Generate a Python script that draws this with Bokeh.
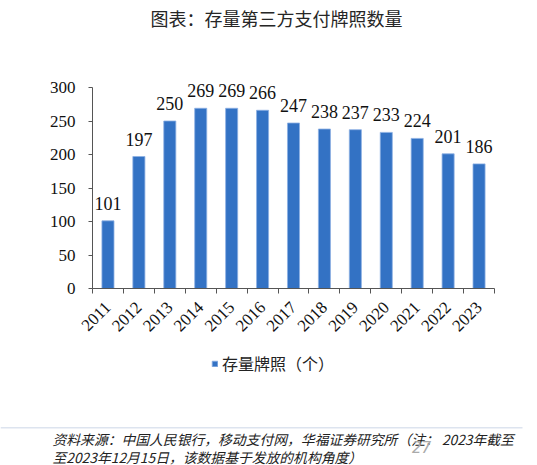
import math
from bokeh.plotting import figure
from bokeh.models import (ColumnDataSource, FixedTicker, LabelSet, Label, Legend,
                          LegendItem, Range1d, BoxAnnotation)
from bokeh.embed import file_html
from bokeh.resources import INLINE

# data
years = ["2011", "2012", "2013", "2014", "2015", "2016", "2017",
         "2018", "2019", "2020", "2021", "2022", "2023"]
licences = [101, 197, 250, 269, 269, 266, 247, 238, 237, 233, 224, 201, 186]
y_ticks = [0, 50, 100, 150, 200, 250, 300]

title_text = "图表：存量第三方支付牌照数量"
legend_text = "存量牌照（个）"
note_1 = "资料来源：中国人民银行，移动支付网，华福证券研究所（注： 2023年截至"
note_2 = "至2023年12月15日，该数据基于发放的机构角度）"
page_no = "27"

CJK = "Noto Sans CJK SC"
SERIF = "Liberation Serif"
BAR = "#3372C4"
AXIS = "#555555"

W, H = 537, 465
n = len(years)
centers = [i + 0.5 for i in range(n)]
source = ColumnDataSource(dict(x=centers, top=licences,
                               label=[str(v) for v in licences]))

# the frame fills the canvas; axes are pinned at x=0 / y=0 so the chart
# sits at (92..494, 87..288) px and notes/legend stay inside the frame
px_x = (494 - 92) / n
px_y = (288 - 87) / 300
p = figure(width=W, height=H, output_backend="svg", toolbar_location=None,
           x_range=Range1d(-92 / px_x, (W - 92) / px_x),
           y_range=Range1d(-(H - 288) / px_y, 288 / px_y),
           min_border=0)
p.outline_line_color = None
p.grid.grid_line_color = None
p.border_fill_color = "white"

r = p.vbar(x="x", top="top", width=0.39, source=source, fill_color=BAR,
           line_color="#8DB0E3", line_width=0.8)

# x axis: labels at centres, ticks at category boundaries
p.xaxis.fixed_location = 0
p.xaxis.bounds = (0, n)
p.xaxis.ticker = FixedTicker(ticks=centers, minor_ticks=list(range(n + 1)))
p.xaxis.major_label_overrides = {c: y for c, y in zip(centers, years)}
p.xaxis.major_tick_out = 0
p.xaxis.major_tick_in = 0
p.xaxis.minor_tick_out = 5
p.xaxis.minor_tick_in = 0
p.xaxis.major_label_orientation = math.pi / 4
p.xaxis.major_label_standoff = 11

p.yaxis.fixed_location = 0
p.yaxis.bounds = (0, 300)
p.yaxis.ticker = FixedTicker(ticks=y_ticks)
p.yaxis.major_tick_out = 4
p.yaxis.major_tick_in = 0
p.yaxis.major_label_standoff = 13

for ax in (p.xaxis, p.yaxis):
    ax.axis_line_color = AXIS
    ax.major_tick_line_color = AXIS
    ax.minor_tick_line_color = AXIS
    ax.major_label_text_font = SERIF
    ax.major_label_text_font_size = "17px"
    ax.major_label_text_color = "#111111"
p.yaxis.minor_tick_line_color = None

labels = LabelSet(x="x", y="top", text="label", source=source, y_offset=11,
                  text_align="center", text_baseline="bottom",
                  text_font=SERIF, text_font_size="18px", text_color="#111111")
p.add_layout(labels)

# title
p.add_layout(Label(x=276, y=H - 17, x_units="screen", y_units="screen",
                   text=title_text, text_font=CJK, text_font_size="18px",
                   text_color="#262626", text_align="center",
                   text_baseline="middle"))

legend = Legend(items=[LegendItem(label=legend_text, renderers=[r])],
                location=(211, H - 375), padding=0, margin=0, glyph_width=7,
                glyph_height=7, label_standoff=4, label_height=16,
                label_text_font=CJK, label_text_font_size="16px",
                label_text_color="#222222", border_line_color=None,
                background_fill_alpha=0)
p.add_layout(legend)

# light rule and source note
p.add_layout(BoxAnnotation(left=0, right=522, top=H - 426.5, bottom=H - 428,
                           left_units="screen", right_units="screen",
                           top_units="screen", bottom_units="screen",
                           fill_color="#DDE4EF", fill_alpha=1, line_color=None))
for txt, yy in ((note_1, 438), (note_2, 456)):
    p.add_layout(Label(x=52, y=H - yy, x_units="screen", y_units="screen",
                       text=txt, text_font=CJK, text_font_size="13.8px",
                       text_font_style="italic", text_color="#222222",
                       text_baseline="middle"))
p.add_layout(Label(x=421, y=H - 446, x_units="screen", y_units="screen",
                   text=page_no, text_font="DejaVu Sans", text_font_size="15px",
                   text_font_style="italic", text_color="#AAAAAA",
                   text_align="center", text_baseline="middle"))

open("out.html", "w").write(file_html(p, INLINE))
